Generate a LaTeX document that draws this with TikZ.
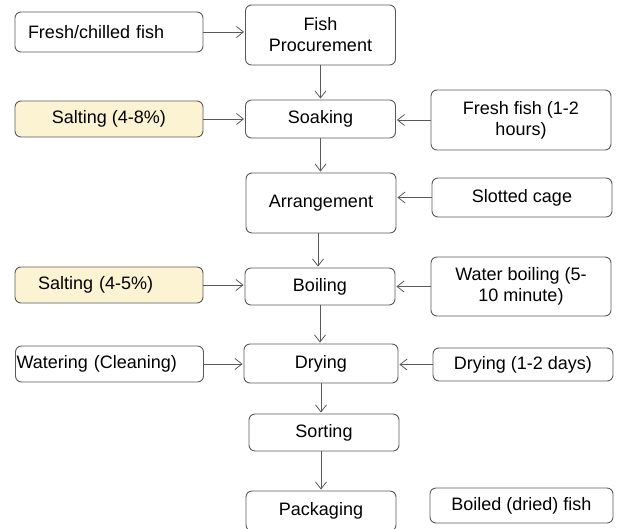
\documentclass[tikz,border=0pt]{standalone}
\usepackage{fontspec}
\setmainfont{Liberation Sans}
\usetikzlibrary{arrows.meta,positioning}
\definecolor{BoxGray}{RGB}{90,90,90}
\definecolor{SaltYellow}{RGB}{252,243,210}

\begin{document}
\begin{tikzpicture}[x=1pt,y=-1pt,
  proc/.style={draw=BoxGray,line width=0.9pt,rounded corners=6pt,
               minimum width=150pt,minimum height=38pt,align=center,
               font=\fontsize{18}{21}\selectfont,inner sep=2pt},
  lside/.style={proc,minimum width=188pt},
  rside/.style={proc,minimum width=180pt},
  salt/.style={lside,fill=SaltYellow},
  flow/.style={draw=BoxGray,line width=0.8pt,shorten >=1pt,
               -{Straight Barb[length=7pt,width=11pt]}},
]
\useasboundingbox (0,0) rectangle (618,528);
% main process column
\node[proc,minimum height=60pt] (procure) at (320.5,35) {Fish\\Procurement};
\node[proc] (soak) at (320.5,119) {Soaking};
\node[proc,minimum height=60pt] (arrange) at (321,203) {Arrangement};
\node[proc,minimum height=37pt] (boil) at (320,286.5) {Boiling};
\node[proc,minimum height=39pt,minimum width=154pt] (dry) at (321,363.5) {Drying};
\node[proc,minimum height=37pt] (sort) at (324,432.5) {Sorting};
\node[proc,minimum height=40pt] (pack) at (321,511) {Packaging};
% inputs on the left
\node[lside,minimum height=40pt,text width=162pt,inner xsep=13pt,align=left]
  (fresh) at (109,32) {Fresh/chilled fish};
\node[salt,minimum height=36pt] (salt1) at (109,119) {Salting (4-8\%)};
\node[salt,minimum height=36pt,text width=142pt,inner xsep=23pt,align=left]
  (salt2) at (109,285) {Salting (4-5\%)};
\node[lside,minimum height=36pt,text width=186pt,inner xsep=1pt,align=left]
  (water) at (109.5,364) {Watering (Cleaning)};
% conditions on the right
\node[rside,minimum height=60pt] (ffish) at (521,120) {Fresh fish (1-2\\hours)};
\node[rside,minimum height=39pt] (cage) at (522,197.5) {Slotted cage};
\node[rside,minimum height=59pt] (wboil) at (521,286.5) {Water boiling (5-\\10 minute)};
\node[rside,minimum height=33pt] (dday) at (523,364.5) {Drying (1-2 days)};
\node[rside,minimum height=35pt,minimum width=183pt] (dried) at (521.5,505.5) {Boiled (dried) fish};
% flow down the column
\draw[flow] (procure.south) -- (procure.south |- soak.north);
\draw[flow] (soak.south) -- (soak.south |- arrange.north);
\draw[flow] ([xshift=-3pt]arrange.south) -- ([xshift=-3pt]arrange.south |- boil.north);
\draw[flow] (boil.south) -- (boil.south |- dry.north);
\draw[flow] (dry.south) -- (dry.south |- sort.north);
\draw[flow] ([xshift=-3pt]sort.south) -- ([xshift=-3pt]sort.south |- pack.north);
% side inputs
\draw[flow] (fresh) -- (fresh -| procure.west);
\draw[flow] (salt1) -- (salt1 -| soak.west);
\draw[flow] (ffish) -- (ffish -| soak.east);
\draw[flow] (cage) -- (cage -| arrange.east);
\draw[flow] (salt2) -- (salt2 -| boil.west);
\draw[flow] (wboil) -- (wboil -| boil.east);
\draw[flow] (water) -- (water -| dry.west);
\draw[flow] (dday) -- (dday -| dry.east);
\end{tikzpicture}
\end{document}
